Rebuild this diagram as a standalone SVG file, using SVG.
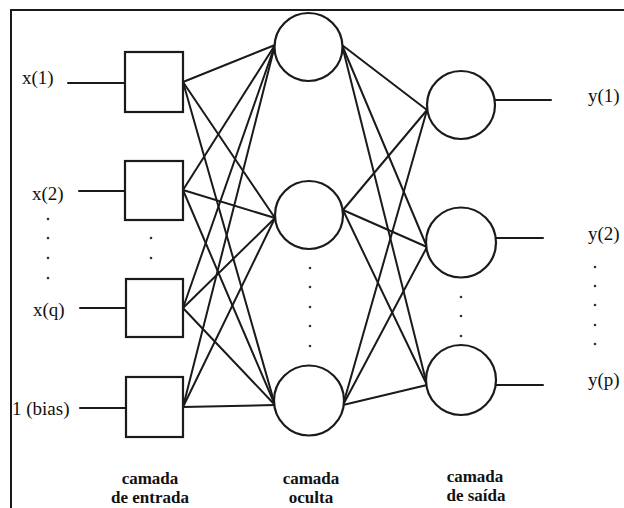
<svg xmlns="http://www.w3.org/2000/svg" width="624" height="508" viewBox="0 0 624 508">
  <style>
    .ln { stroke: #1a1a1a; stroke-width: 2; fill: none; stroke-linecap: round; }
    .node { stroke: #1a1a1a; stroke-width: 2.2; fill: #ffffff; }
    .lbl { font-family: "Liberation Serif", "Times New Roman", serif; font-size: 19px; fill: #111111; }
    .cap { font-family: "Liberation Serif", "Times New Roman", serif; font-size: 17px; font-weight: bold; fill: #111111; text-anchor: middle; }
    .dot { fill: #333333; }
  </style>
  <rect x="0" y="0" width="624" height="508" fill="#ffffff"/>
  <!-- frame -->
  <g id="frame">
    <line class="ln" x1="11" y1="10" x2="624" y2="10"/>
    <line class="ln" x1="11" y1="10" x2="11" y2="508"/>
  </g>
  <!-- connectors -->
  <g id="connectors">
    <!-- inputs to input boxes -->
    <line class="ln" x1="68" y1="83" x2="125" y2="83"/>
    <line class="ln" x1="79" y1="191" x2="125" y2="191"/>
    <line class="ln" x1="80" y1="308" x2="126" y2="308"/>
    <line class="ln" x1="80" y1="408" x2="126" y2="408"/>
    <!-- input boxes to hidden -->
    <line class="ln" x1="183" y1="82" x2="275" y2="45"/>
    <line class="ln" x1="183" y1="82" x2="275" y2="218"/>
    <line class="ln" x1="183" y1="82" x2="275" y2="405"/>
    <line class="ln" x1="183" y1="190" x2="275" y2="45"/>
    <line class="ln" x1="183" y1="190" x2="275" y2="218"/>
    <line class="ln" x1="183" y1="190" x2="275" y2="405"/>
    <line class="ln" x1="183" y1="308" x2="275" y2="45"/>
    <line class="ln" x1="183" y1="308" x2="275" y2="218"/>
    <line class="ln" x1="183" y1="308" x2="275" y2="405"/>
    <line class="ln" x1="183" y1="407" x2="275" y2="45"/>
    <line class="ln" x1="183" y1="407" x2="275" y2="218"/>
    <line class="ln" x1="183" y1="407" x2="275" y2="405"/>
    <!-- hidden to output -->
    <line class="ln" x1="342" y1="45" x2="427" y2="110"/>
    <line class="ln" x1="342" y1="45" x2="427" y2="247"/>
    <line class="ln" x1="342" y1="45" x2="427" y2="385"/>
    <line class="ln" x1="343" y1="210" x2="427" y2="110"/>
    <line class="ln" x1="343" y1="210" x2="427" y2="247"/>
    <line class="ln" x1="343" y1="210" x2="427" y2="385"/>
    <line class="ln" x1="343" y1="405" x2="427" y2="110"/>
    <line class="ln" x1="343" y1="405" x2="427" y2="247"/>
    <line class="ln" x1="343" y1="405" x2="427" y2="385"/>
    <!-- outputs -->
    <line class="ln" x1="495" y1="100" x2="551" y2="100"/>
    <line class="ln" x1="495" y1="238" x2="543" y2="238"/>
    <line class="ln" x1="495" y1="385" x2="543" y2="385"/>
  </g>
  <!-- input layer -->
  <g id="in1"><rect class="node" x="125" y="52" width="58" height="60"/></g>
  <g id="in2"><rect class="node" x="125" y="161" width="58" height="59"/></g>
  <g id="in3"><rect class="node" x="126" y="279" width="57" height="58"/></g>
  <g id="in4"><rect class="node" x="126" y="377" width="57" height="60"/></g>
  <!-- hidden layer -->
  <g id="h1"><circle class="node" cx="308.5" cy="47" r="34"/></g>
  <g id="h2"><circle class="node" cx="309" cy="215" r="34"/></g>
  <g id="h3"><circle class="node" cx="309" cy="400.5" r="35"/></g>
  <!-- output layer -->
  <g id="o1"><circle class="node" cx="461" cy="105" r="34"/></g>
  <g id="o2"><circle class="node" cx="461" cy="242.5" r="35"/></g>
  <g id="o3"><circle class="node" cx="461" cy="380" r="35"/></g>
  <!-- labels -->
  <g id="labels">
    <text class="lbl" x="22" y="84">x(1)</text>
    <text class="lbl" x="32" y="200">x(2)</text>
    <text class="lbl" x="33" y="316">x(q)</text>
    <text class="lbl" x="12" y="415">1 (bias)</text>
    <text class="lbl" x="588" y="102">y(1)</text>
    <text class="lbl" x="588" y="240">y(2)</text>
    <text class="lbl" x="588" y="386">y(p)</text>
    <text class="cap" x="150" y="484">camada</text>
    <text class="cap" x="150" y="503">de entrada</text>
    <text class="cap" x="311" y="484">camada</text>
    <text class="cap" x="311" y="503">oculta</text>
    <text class="cap" x="475" y="482">camada</text>
    <text class="cap" x="476" y="501">de saída</text>
  </g>
  <!-- ellipsis dots -->
  <g id="dots">
    <circle class="dot" cx="48" cy="219" r="1.3"/>
    <circle class="dot" cx="48" cy="238" r="1.3"/>
    <circle class="dot" cx="48" cy="258" r="1.3"/>
    <circle class="dot" cx="48" cy="278" r="1.3"/>
    <circle class="dot" cx="151" cy="238" r="1.3"/>
    <circle class="dot" cx="151" cy="258" r="1.3"/>
    <circle class="dot" cx="310" cy="268" r="1.3"/>
    <circle class="dot" cx="310" cy="287" r="1.3"/>
    <circle class="dot" cx="310" cy="307" r="1.3"/>
    <circle class="dot" cx="310" cy="326" r="1.3"/>
    <circle class="dot" cx="310" cy="346" r="1.3"/>
    <circle class="dot" cx="461" cy="297" r="1.3"/>
    <circle class="dot" cx="461" cy="316" r="1.3"/>
    <circle class="dot" cx="461" cy="336" r="1.3"/>
    <circle class="dot" cx="595" cy="267" r="1.3"/>
    <circle class="dot" cx="595" cy="286" r="1.3"/>
    <circle class="dot" cx="595" cy="305" r="1.3"/>
    <circle class="dot" cx="595" cy="325" r="1.3"/>
    <circle class="dot" cx="595" cy="344" r="1.3"/>
  </g>
</svg>
